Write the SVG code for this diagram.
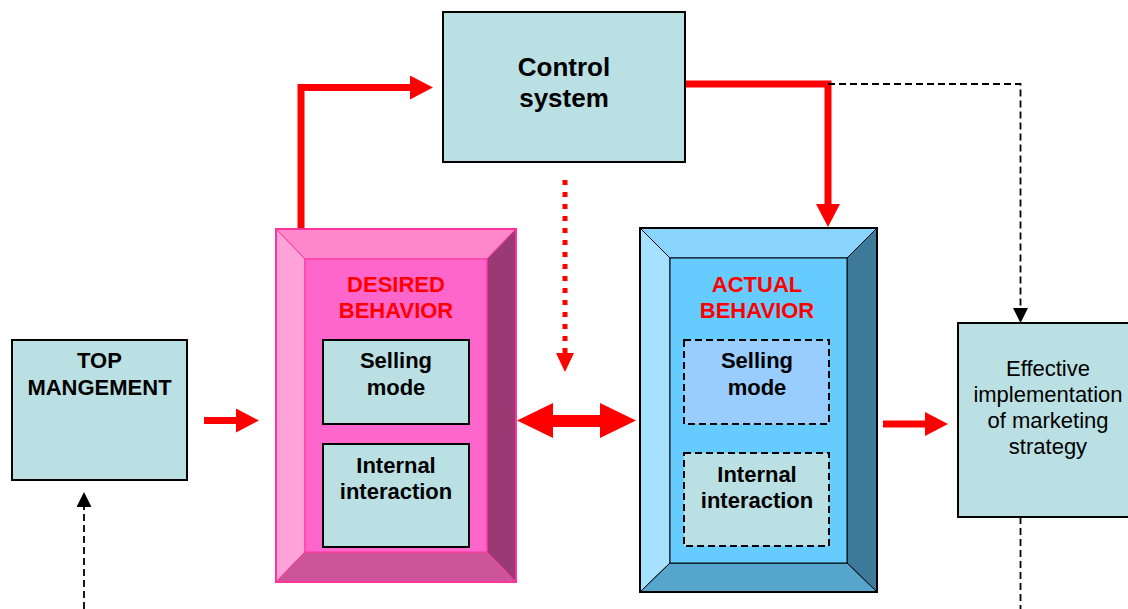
<svg xmlns="http://www.w3.org/2000/svg" width="1128" height="609" viewBox="0 0 1128 609">
<style>
.box{fill:#BBE0E3;stroke:#000;stroke-width:2}
.dbox{stroke:#000;stroke-width:2;stroke-dasharray:7 4}
.t{font-family:"Liberation Sans",Arial,sans-serif;font-size:22px;text-anchor:middle;fill:#000}
.b{font-weight:bold}
.red{fill:#FF0000}
.rl{fill:none;stroke:#FF0000;stroke-width:7;stroke-linejoin:miter}
.bl{fill:none;stroke:#000;stroke-width:1.8;stroke-dasharray:7 4}
.pk{stroke:#FF3399;stroke-width:1}
.bu{stroke:#000;stroke-width:1}
</style>
<defs>
<marker id="rh" markerUnits="userSpaceOnUse" markerWidth="23" markerHeight="24" viewBox="0 0 23 24" refX="0" refY="12" orient="auto">
<path d="M0,0 L23,12 L0,24 Z" fill="#FF0000"/>
</marker>
<marker id="rs" markerUnits="userSpaceOnUse" markerWidth="19" markerHeight="18" viewBox="0 0 19 18" refX="0" refY="9" orient="auto">
<path d="M0,0 L19,9 L0,18 Z" fill="#FF0000"/>
</marker>
<marker id="bh" markerUnits="userSpaceOnUse" markerWidth="15" markerHeight="15" viewBox="0 0 15 15" refX="0" refY="7.5" orient="auto">
<path d="M0,0 L15,7.5 L0,15 Z" fill="#000"/>
</marker>
</defs>

<g id="connectors">
<path class="rl" d="M301,229 V87.5 H410" marker-end="url(#rh)"/>
<path class="rl" d="M685,84 H828 V204" marker-end="url(#rh)"/>
<path class="rl" d="M204,420.5 H236" marker-end="url(#rh)"/>
<path class="rl" d="M883,424 H925" marker-end="url(#rh)"/>
<path d="M565,180 V353" fill="none" stroke="#FF0000" stroke-width="5" stroke-dasharray="5 7" marker-end="url(#rs)"/>
<polygon class="red" points="517,420.5 553,403 553,415 600,415 600,403 636,420.5 600,438 600,427 553,427 553,438"/>
<path class="bl" d="M828,84 H1020.5 V308" marker-end="url(#bh)"/>
<path class="bl" d="M84,609 V507" marker-end="url(#bh)"/>
<path class="bl" d="M1020.5,517 V609"/>
</g>

<g id="control-system">
<rect class="box" x="443" y="12" width="242" height="150"/>
<text class="t b" style="font-size:26px" x="564" y="76">Control</text>
<text class="t b" style="font-size:26px" x="564" y="107">system</text>
</g>

<g id="top-management">
<rect class="box" x="12" y="340" width="175" height="140"/>
<text class="t b" x="99.5" y="368">TOP</text>
<text class="t b" x="99.5" y="395">MANGEMENT</text>
</g>

<g id="desired-behavior">
<polygon class="pk" fill="#FF88CC" points="276,229 516,229 487,259 305,259"/>
<polygon class="pk" fill="#FFA3DA" points="276,229 305,259 305,552 276,582"/>
<polygon class="pk" fill="#993A75" points="516,229 516,582 487,552 487,259"/>
<polygon class="pk" fill="#CC5599" points="276,582 305,552 487,552 516,582"/>
<rect class="pk" fill="#FF66CC" x="305" y="259" width="182" height="293"/>
<rect x="276" y="229" width="240" height="353" fill="none" stroke="#FF3399" stroke-width="2"/>
<text class="t b" style="fill:#FF0000" x="396" y="292">DESIRED</text>
<text class="t b" style="fill:#FF0000" x="396" y="318">BEHAVIOR</text>
<g id="desired-selling">
<rect class="box" x="323" y="340" width="146" height="84"/>
<text class="t b" x="396" y="368">Selling</text>
<text class="t b" x="396" y="395">mode</text>
</g>
<g id="desired-internal">
<rect class="box" x="323" y="444" width="146" height="103"/>
<text class="t b" x="396" y="473">Internal</text>
<text class="t b" x="396" y="499">interaction</text>
</g>
</g>

<g id="actual-behavior">
<polygon class="bu" fill="#88D4FF" points="640,228 877,228 847,258 670,258"/>
<polygon class="bu" fill="#A6E1FF" points="640,228 670,258 670,563 640,592"/>
<polygon class="bu" fill="#3D7A99" points="877,228 877,592 847,563 847,258"/>
<polygon class="bu" fill="#55A5CC" points="640,592 670,563 847,563 877,592"/>
<rect class="bu" fill="#66CCFF" x="670" y="258" width="177" height="305"/>
<rect x="640" y="228" width="237" height="364" fill="none" stroke="#000" stroke-width="2"/>
<text class="t b" style="fill:#FF0000" x="757" y="292">ACTUAL</text>
<text class="t b" style="fill:#FF0000" x="757" y="318">BEHAVIOR</text>
<g id="actual-selling">
<rect class="dbox" fill="#99CCFF" x="684" y="340" width="145" height="84"/>
<text class="t b" x="757" y="368">Selling</text>
<text class="t b" x="757" y="395">mode</text>
</g>
<g id="actual-internal">
<rect class="dbox" fill="#BBE0E3" x="684" y="453" width="145" height="93"/>
<text class="t b" x="757" y="482">Internal</text>
<text class="t b" x="757" y="508">interaction</text>
</g>
</g>

<g id="effective-implementation">
<rect class="box" x="958" y="323" width="180" height="194"/>
<text class="t" x="1048" y="376">Effective</text>
<text class="t" x="1048" y="402">implementation</text>
<text class="t" x="1048" y="428">of marketing</text>
<text class="t" x="1048" y="454">strategy</text>
</g>
</svg>
